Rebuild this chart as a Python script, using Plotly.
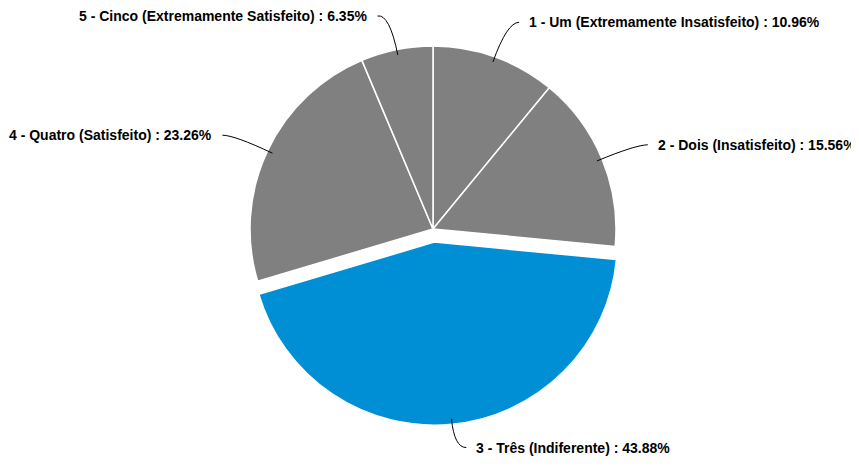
import math
import plotly.graph_objects as go

categories = ["1 - Um (Extremamente Insatisfeito)", "2 - Dois (Insatisfeito)",
              "3 - Três (Indiferente)", "4 - Quatro (Satisfeito)",
              "5 - Cinco (Extremamente Satisfeito)"]
values = [10.96, 15.56, 43.88, 23.26, 6.35]
pulls = [0, 0, 0.072, 0, 0]
colors = ["#808080", "#808080", "#008fd5", "#808080", "#808080"]

W, H = 859, 468
OFF = 8                    # page body margin
cx, cy = 433 - OFF, 229 - OFF   # pie centre in figure pixels
R = 183                    # pie radius in pixels
maxpull = max(pulls)
half = R * (1 + maxpull)
MIN_Y = 8                  # keep label text inside the figure

fig = go.Figure(go.Pie(
    labels=categories, values=values, sort=False, direction="clockwise",
    rotation=0, pull=pulls, marker=dict(colors=colors, line=dict(color="white", width=1.5)),
    textinfo="none", showlegend=False,
    domain=dict(x=[(cx - half) / W, (cx + half) / W], y=[1 - (cy + half) / H, 1 - (cy - half) / H]),
))

def px(x, y):
    return x / W, 1 - y / H

total = sum(values)
cum = 0
shapes, annotations = [], []
for lab, v, p in zip(categories, values, pulls):
    mid = (cum + v / 2) / total * 2 * math.pi
    cum += v
    s, c = math.sin(mid), math.cos(mid)
    ox, oy = cx + p * R * s, cy - p * R * c
    ax, ay = ox + 0.97 * R * s, oy - 0.97 * R * c
    bx, by = cx + 1.2 * R * s, cy - 1.2 * R * c
    side = 1 if s >= 0 else -1
    ex, ey = bx + 12 * side, max(by, MIN_Y)
    pa, pb, pe = px(ax, ay), px(bx, by), px(ex, ey)
    shapes.append(dict(type="path", xref="paper", yref="paper",
                       path=f"M {pa[0]},{pa[1]} Q {pb[0]},{pb[1]} {pe[0]},{pe[1]}",
                       line=dict(color="black", width=1)))
    tx, ty = px(ex + 8 * side, ey)
    annotations.append(dict(x=tx, y=ty, xref="paper", yref="paper", showarrow=False,
                            text=f"{lab} : {v:.2f}%", xanchor="left" if side > 0 else "right",
                            yanchor="middle",
                            font=dict(family="Liberation Sans, Arial, sans-serif", size=14,
                                      color="black", weight="bold")))

fig.update_layout(width=W, height=H, margin=dict(l=0, r=0, t=0, b=0),
                  paper_bgcolor="white", plot_bgcolor="white",
                  shapes=shapes, annotations=annotations)
fig.write_html("out.html")
